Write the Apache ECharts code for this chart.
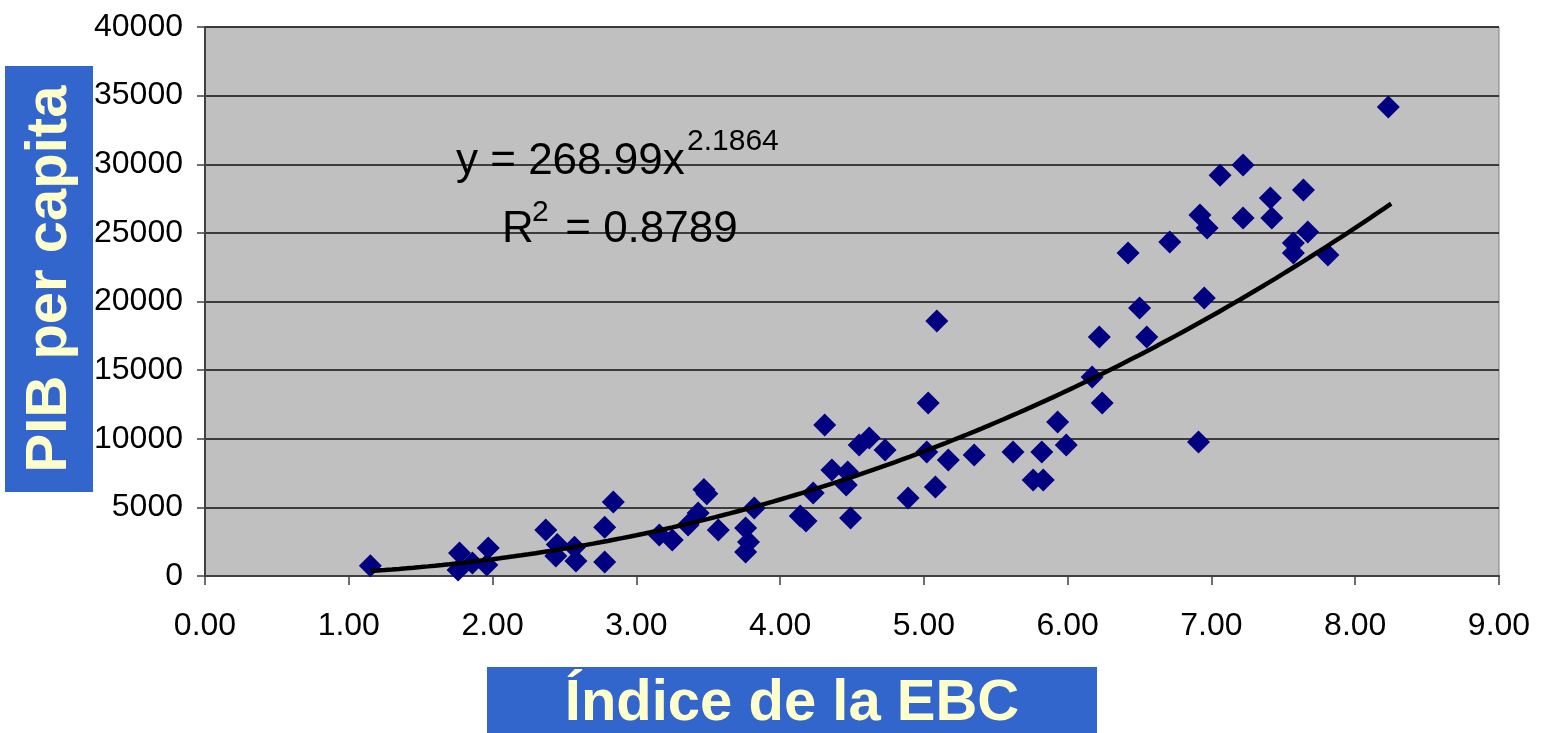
<!DOCTYPE html>
<html>
<head>
<meta charset="utf-8">
<script src="https://cdn.jsdelivr.net/npm/echarts@6/dist/echarts.min.js"></script>
<style>
html,body{margin:0;padding:0;background:#fff;}
#c{width:1546px;height:733px;}
</style>
</head>
<body>
<div id="c"></div>
<script>
// ---- data ----
var ebcIndex = [1.15,1.77,1.76,1.86,1.97,1.96,2.37,2.45,2.44,2.57,2.58,2.78,2.78,2.84,3.16,3.25,3.36,3.43,3.47,3.49,3.57,3.76,3.78,3.76,3.82,4.14,4.18,4.23,4.31,4.36,4.46,4.47,4.49,4.55,4.62,4.73,4.89,5.03,5.02,5.08,5.09,5.17,5.35,5.62,5.76,5.83,5.82,5.93,5.99,6.17,6.22,6.24,6.42,6.50,6.55,6.71,6.91,6.92,6.97,6.95,7.06,7.22,7.22,7.41,7.42,7.57,7.57,7.64,7.67,7.81,8.23];
var pibPerCapita = [750,1680,440,950,2040,800,3350,2300,1450,2100,1100,3550,1020,5390,2990,2620,3720,4590,6300,6000,3350,3500,2480,1750,4950,4370,4000,6050,11000,7720,6630,7580,4230,9540,10050,9180,5680,12600,9030,6480,18580,8450,8820,9030,7000,7000,9030,11220,9540,14500,17410,12600,23530,19530,17410,24340,9760,26300,25350,20250,29200,29950,26080,27540,26080,24260,23530,28120,25060,23390,34170];
// power trendline shown in the chart: y = 268.99 x^2.1864, R^2 = 0.8789
var trendA = 268.99;
var trendB = 2.1864;
var trendRange = [1.15, 8.25];
var xTicks = ['0.00','1.00','2.00','3.00','4.00','5.00','6.00','7.00','8.00','9.00'];
var yTicks = ['0','5000','10000','15000','20000','25000','30000','35000','40000'];
var yTitle = 'PIB per capita';
var xTitle = 'Índice de la EBC';

var points = ebcIndex.map(function(x,i){return [x, pibPerCapita[i]];});
var trend = [];
for (var x = trendRange[0]; x <= trendRange[1] + 1e-9; x += 0.05) {
  trend.push([x, trendA * Math.pow(x, trendB)]);
}
var FONT = 'Arial, "Liberation Sans", sans-serif';

var chart = echarts.init(document.getElementById('c'), null, {renderer:'canvas'});
chart.setOption({
  animation:false,
  backgroundColor:'#ffffff',
  grid:{left:205, right:47, top:27, bottom:157, show:true, backgroundColor:'#C0C0C0', borderColor:'#808080', borderWidth:1},
  xAxis:{
    type:'value', min:0, max:9, interval:1,
    axisLine:{show:true, onZero:false, lineStyle:{color:'#404040', width:2}},
    axisTick:{show:true, length:9, lineStyle:{color:'#404040', width:1.5}},
    axisLabel:{margin:34, fontSize:32, color:'#000', fontFamily:FONT,
      formatter:function(v){return xTicks[Math.round(v)];}},
    splitLine:{show:false}
  },
  yAxis:{
    type:'value', min:0, max:40000, interval:5000,
    axisLine:{show:true, lineStyle:{color:'#404040', width:2}},
    axisTick:{show:true, length:8, lineStyle:{color:'#404040', width:1.5}},
    axisLabel:{margin:22, fontSize:32, color:'#000', fontFamily:FONT,
      formatter:function(v){return yTicks[Math.round(v/5000)];}},
    splitLine:{show:true, lineStyle:{color:'#111', width:1.5}}
  },
  series:[
    {type:'scatter', data:points, symbol:'diamond', symbolSize:23,
     itemStyle:{color:'#000080', opacity:1}, z:3},
    {type:'line', data:trend, showSymbol:false, symbol:'none', smooth:false,
     lineStyle:{color:'#000', width:4.5}, z:4}
  ],
  graphic:[
    {type:'rect', left:5, top:66, shape:{width:88, height:426}, style:{fill:'#3366CC'}, z:10},
    {type:'text', x:50, y:279, rotation:Math.PI/2, z:11,
     style:{text:yTitle, font:'bold 58px ' + FONT, fill:'#FFFFCC', align:'center', verticalAlign:'middle'}},
    {type:'rect', left:487, top:667, shape:{width:610, height:66}, style:{fill:'#3366CC'}, z:10},
    {type:'text', x:792, y:704, z:11,
     style:{text:xTitle, font:'bold 58px ' + FONT, fill:'#FFFFCC', align:'center', verticalAlign:'middle'}},
    {type:'text', x:456, y:162, z:11,
     style:{text:'y = 268.99x', font:'44px ' + FONT, fill:'#000', align:'left', verticalAlign:'middle'}},
    {type:'text', x:687, y:142, z:11,
     style:{text:'2.1864', font:'30px ' + FONT, fill:'#000', align:'left', verticalAlign:'middle'}},
    {type:'text', x:502, y:230, z:11,
     style:{text:'R', font:'44px ' + FONT, fill:'#000', align:'left', verticalAlign:'middle'}},
    {type:'text', x:532, y:213, z:11,
     style:{text:'2', font:'30px ' + FONT, fill:'#000', align:'left', verticalAlign:'middle'}},
    {type:'text', x:553, y:230, z:11,
     style:{text:' = 0.8789', font:'44px ' + FONT, fill:'#000', align:'left', verticalAlign:'middle'}}
  ]
});
</script>
</body>
</html>
